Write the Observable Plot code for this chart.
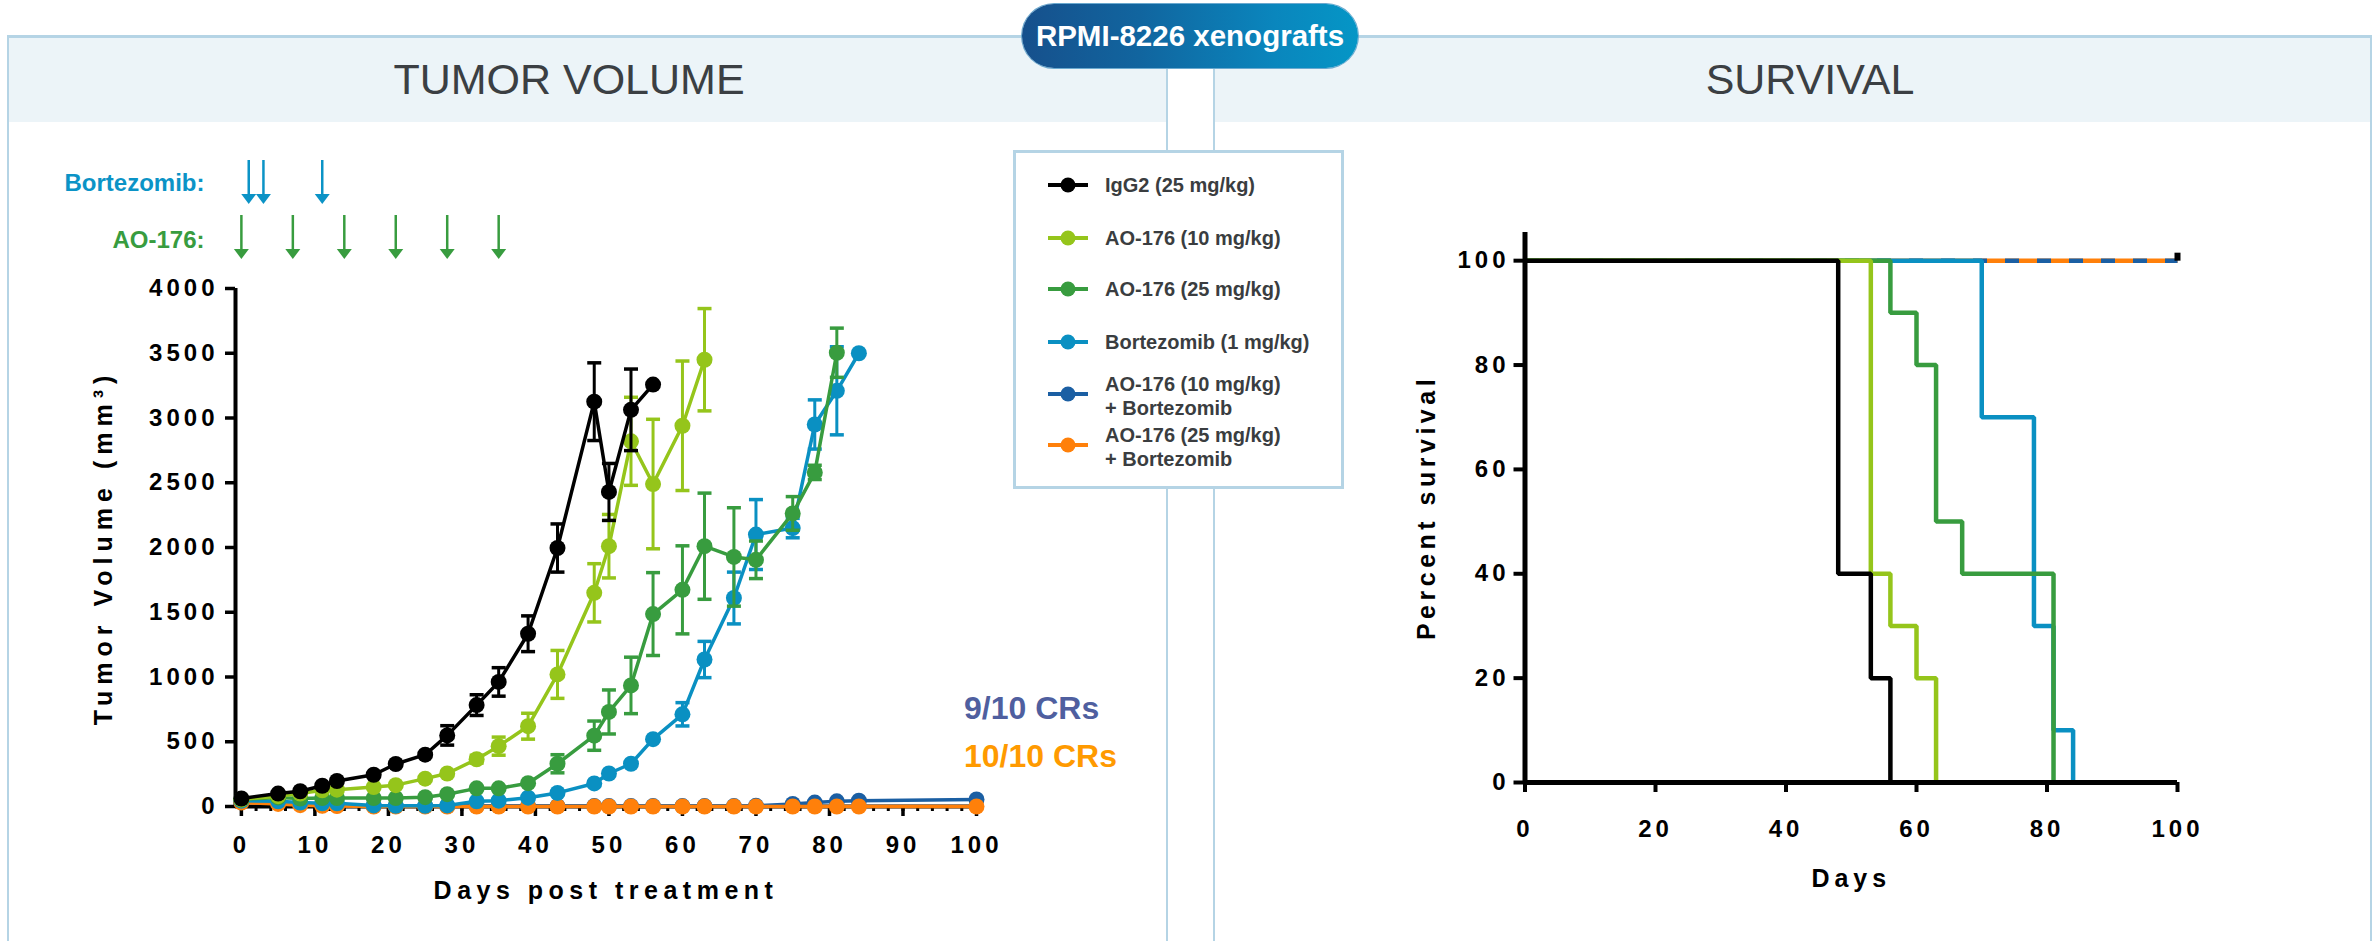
<!DOCTYPE html>
<html>
<head>
<meta charset="utf-8">
<script src="https://cdn.jsdelivr.net/npm/d3@7"></script>
<script src="https://cdn.jsdelivr.net/npm/@observablehq/plot@0.6"></script>
<style>
html, body { margin: 0; padding: 0; background: #fff; }
#page { position: relative; width: 2374px; height: 941px; overflow: hidden; font-family: "Liberation Sans", Arial, Helvetica, sans-serif; }
.panel { position: absolute; top: 35px; height: 930px; border: 2px solid #b5d4e5; border-top-width: 3px; box-sizing: border-box; background: #fff; }
.band { position: absolute; left: 0; right: 0; top: 0; height: 84px; background: #ecf4f8; }
.ptitle { position: absolute; width: 600px; text-align: center; font-size: 43px; line-height: 43px; color: #3b3f43; font-weight: normal; }
.layer { position: absolute; left: 0; top: 0; }
.layer svg { overflow: visible; background: transparent; }
#legend { position: absolute; left: 1013px; top: 150px; width: 331px; height: 339px; border: 3px solid #b5d4e5; box-sizing: border-box; background: #fff; z-index: 5; }
.litem { position: absolute; left: 0; }
.ltext { position: absolute; left: 89px; font-size: 20px; line-height: 24px; font-weight: bold; color: #3a3d40; white-space: nowrap; }
#badge { position: absolute; left: 1022px; top: 4px; width: 336px; height: 64px; border-radius: 32px; background: linear-gradient(90deg, #16508c 0%, #11659f 35%, #0a86bd 75%, #0596c6 100%); color: #fff; font-weight: bold; font-size: 29.5px; display: flex; align-items: center; justify-content: center; z-index: 10; box-shadow: 0 0 0 1px #6aa9cf; }
.cr { position: absolute; font-size: 32px; line-height: 32px; font-weight: bold; white-space: nowrap; z-index: 4; }
</style>
</head>
<body>
<div id="page">
  <div class="panel" style="left:7px; width:1161px;"><div class="band"></div></div>
  <div class="panel" style="left:1213px; width:1159px;"><div class="band"></div></div>
  <div class="ptitle" style="left:269px; top:58px;">TUMOR VOLUME</div>
  <div class="ptitle" style="left:1510px; top:58px;">SURVIVAL</div>
  <div class="layer" id="doses" style="z-index:2"></div>
  <div class="layer" id="tumor" style="z-index:3"></div>
  <div class="layer" id="survival" style="left:1213px; z-index:3"></div>
  <div id="legend"></div>
  <div class="cr" id="cr1" style="left:964px; top:692px; color:#4f5f9f;"></div>
  <div class="cr" id="cr2" style="left:964px; top:740px; color:#ff9a00;"></div>
  <div id="badge">RPMI-8226 xenografts</div>
</div>
<script>
// ---------------- DATA ----------------
const seriesNames = ["IgG2 (25 mg/kg)", "AO-176 (10 mg/kg)", "AO-176 (25 mg/kg)", "Bortezomib (1 mg/kg)", "AO-176 (10 mg/kg)\n+ Bortezomib", "AO-176 (25 mg/kg)\n+ Bortezomib"];

// measurement days (tumor volume)
const days = [0, 5, 8, 11, 13, 18, 21, 25, 28, 32, 35, 39, 43, 48, 50, 53, 56, 60, 63, 67, 70, 75, 78, 81, 84, 100];

// mean tumor volume (mm3) and error (SEM), by measurement index
const igg2    = [62, 100, 118, 160, 197, 245, 328, 400, 549, 783, 962, 1334, 1996, 3126, 2429, 3063, 3258];
const igg2Err = [0, 0, 0, 0, 0, 0, 0, 0, 75, 80, 110, 138, 186, 300, 220, 315, 0];
const ao10    = [55, 80, 100, 125, 130, 150, 165, 215, 255, 365, 466, 620, 1020, 1650, 2010, 2820, 2490, 2940, 3450];
const ao10Err = [0, 0, 0, 0, 0, 0, 0, 0, 0, 30, 70, 100, 185, 225, 245, 340, 500, 500, 395];
const ao25    = [55, 70, 62, 65, 65, 65, 65, 72, 95, 140, 140, 180, 330, 547, 730, 935, 1486, 1673, 2010, 1927, 1905, 2263, 2580, 3504];
const ao25Err = [0, 0, 0, 0, 0, 0, 0, 0, 0, 0, 0, 0, 70, 113, 170, 218, 320, 340, 410, 380, 145, 130, 55, 190];
const btz     = [45, 40, 30, 25, 25, 8, 5, 5, 8, 40, 45, 68, 105, 178, 255, 330, 520, 712, 1135, 1610, 2100, 2150, 2950, 3210, 3500];
const btzErr  = [0, 0, 0, 0, 0, 0, 0, 0, 0, 0, 0, 0, 0, 0, 0, 0, 0, 90, 140, 200, 270, 75, 190, 340, 0];
const combo10 = [40, 30, 20, 10, 8, 5, 3, 3, 3, 3, 3, 3, 3, 3, 3, 3, 3, 3, 3, 3, 5, 20, 30, 40, 45, 55];
const combo25 = [30, 20, 10, 5, 3, 0, 0, 0, 0, 0, 0, 0, 0, 0, 0, 0, 0, 0, 0, 0, 0, 0, 0, 0, 0, 0];

// dosing schedules (days)
const bortezomibDoses = [1, 3, 11];
const ao176Doses = [0, 7, 14, 21, 28, 35];

// survival (Kaplan-Meier steps): day, percent
const survIgg2Days = [0, 48, 53, 56],         survIgg2Pct = [100, 40, 20, 0];
const survAo10Days = [0, 53, 56, 60, 63],     survAo10Pct = [100, 40, 30, 20, 0];
const survAo25Days = [0, 56, 60, 63, 67, 81], survAo25Pct = [100, 90, 80, 50, 40, 0];
const survBtzDays  = [0, 70, 78, 81, 84],     survBtzPct  = [100, 70, 30, 10, 0];
const survCombo10Days = [0, 100],             survCombo10Pct = [100, 100];
const survCombo25Days = [0, 100],             survCombo25Pct = [100, 100];
const censoredDay = [100], censoredPct = [100];

// tick labels
const tumorYTicks = [0, 500, 1000, 1500, 2000, 2500, 3000, 3500, 4000];
const tumorXTicks = [0, 10, 20, 30, 40, 50, 60, 70, 80, 90, 100];
const tumorXMinor = d3.range(0, 101, 2);
const survXTicks = [0, 20, 40, 60, 80, 100];
const survYTicks = [0, 20, 40, 60, 80, 100];

const crLabels = ["9/10 CRs", "10/10 CRs"];

// ---------------- STYLE ----------------
const FONT = '"Liberation Sans", Arial, Helvetica, sans-serif';
const COL = ["#000000", "#95c51b", "#389c3f", "#0a90c2", "#1b5fa3", "#ff800a"];
const BTZ_LABEL = "#0b93c6", AO_LABEL = "#389c3f";

const hline = { draw(ctx) { ctx.moveTo(-7, 0); ctx.lineTo(7, 0); } };
const downTri = { draw(ctx) { ctx.moveTo(-7.5, -5); ctx.lineTo(7.5, -5); ctx.lineTo(0, 5); ctx.closePath(); } };
const censorMark = { draw(ctx) { ctx.rect(-3, -8, 6, 8); } };

const tumorValues = [igg2, ao10, ao25, btz, combo10, combo25];
const tumorErrors = [igg2Err, ao10Err, ao25Err, btzErr, null, null];
const series = seriesNames.map((name, i) => ({
  name, color: COL[i],
  rows: tumorValues[i].map((v, j) => ({ day: days[j], v, e: tumorErrors[i] ? tumorErrors[i][j] : 0 }))
}));
const drawOrder = [4, 5, 3, 2, 1, 0];

const xDomain = [-0.8, 100];

// ---------------- TUMOR VOLUME ----------------
const tumorMarks = [
  Plot.axisY({ ticks: tumorYTicks, tickSize: 10, tickPadding: 7, tickFormat: d => String(d), strokeWidth: 3.5, label: null }),
  Plot.axisX({ ticks: tumorXMinor, tickSize: 5, tickFormat: () => "", strokeWidth: 3, label: null }),
  Plot.axisX({ ticks: tumorXTicks, tickSize: 10, tickPadding: 19, tickFormat: d => String(d), strokeWidth: 3.5, label: null }),
  Plot.ruleX([xDomain[0]], { strokeWidth: 4 }),
  Plot.ruleY([0], { strokeWidth: 4 })
];
for (const k of drawOrder) {
  const s = series[k];
  const err = s.rows.filter(r => r.e > 0);
  tumorMarks.push(
    Plot.ruleX(err, { x: "day", y1: d => d.v - d.e, y2: d => d.v + d.e, stroke: s.color, strokeWidth: 3 }),
    Plot.dot(err, { x: "day", y: d => d.v + d.e, symbol: hline, fill: "none", stroke: s.color, strokeWidth: 3.5 }),
    Plot.dot(err, { x: "day", y: d => d.v - d.e, symbol: hline, fill: "none", stroke: s.color, strokeWidth: 3.5 }),
    Plot.line(s.rows, { x: "day", y: "v", stroke: s.color, strokeWidth: 3.5 }),
    Plot.dot(s.rows, { x: "day", y: "v", r: 8, fill: s.color, stroke: "none" })
  );
}
tumorMarks.push(
  Plot.text(["Days post treatment"], { text: d => d, frameAnchor: "bottom", textAnchor: "middle", lineAnchor: "middle", dy: 84, fontSize: 25, fontWeight: "bold" }),
  Plot.text(["Tumor Volume (mm³)"], { text: d => d, frameAnchor: "left", textAnchor: "middle", lineAnchor: "middle", dx: -132, rotate: -90, fontSize: 25, fontWeight: "bold" })
);

const tumor = Plot.plot({
  width: 1166, height: 941,
  marginLeft: 235, marginRight: 190, marginTop: 288, marginBottom: 135,
  x: { domain: xDomain },
  y: { domain: [0, 4000] },
  style: `font-family: ${FONT}; font-size: 24px; font-weight: bold; color: #000; background: transparent; overflow: visible; letter-spacing: 4px;`,
  marks: tumorMarks
});
document.getElementById("tumor").append(tumor);

// ---------------- DOSING ARROWS ----------------
const doseRows = [
  { drug: "Bortezomib:", days: bortezomibDoses, color: BTZ_LABEL, dy: 1 },
  { drug: "AO-176:", days: ao176Doses, color: AO_LABEL, dy: 3 }
];
const dosePlot = Plot.plot({
  width: 1166, height: 300,
  marginLeft: 235, marginRight: 190, marginTop: 150, marginBottom: 30,
  x: { domain: xDomain, axis: null },
  y: { type: "band", domain: doseRows.map(r => r.drug), range: [159, 259], paddingInner: 0.214, paddingOuter: 0, axis: null },
  style: `font-family: ${FONT}; font-size: 24px; font-weight: bold; background: transparent; overflow: visible;`,
  marks: doseRows.flatMap(r => [
    Plot.tickX(r.days, { x: d => d, y: () => r.drug, stroke: r.color, strokeWidth: 2.5, insetBottom: 7 }),
    Plot.dot(r.days, { x: d => d, y: () => r.drug, symbol: downTri, fill: r.color, stroke: "none", dy: 17 }),
    Plot.text([r.drug], { y: d => d, text: d => d, frameAnchor: "left", textAnchor: "end", dx: -31, dy: r.dy, fill: r.color, fontSize: 24, fontWeight: "bold" })
  ])
});
document.getElementById("doses").append(dosePlot);

// ---------------- SURVIVAL ----------------
const survDaysAll = [survIgg2Days, survAo10Days, survAo25Days, survBtzDays, survCombo10Days, survCombo25Days];
const survPctAll = [survIgg2Pct, survAo10Pct, survAo25Pct, survBtzPct, survCombo10Pct, survCombo25Pct];
const surv = seriesNames.map((name, i) => ({ name, color: COL[i], rows: survDaysAll[i].map((d, j) => ({ day: d, pct: survPctAll[i][j] })) }));
const survOrder = [5, 4, 3, 2, 1, 0];
const survMarks = [
  Plot.axisY({ ticks: survYTicks, tickSize: 11, tickPadding: 4.5, tickFormat: d => String(d), strokeWidth: 4, label: null }),
  Plot.axisX({ ticks: survXTicks, tickSize: 10, tickPadding: 27, tickFormat: d => String(d), strokeWidth: 4, label: null })
];
for (const k of survOrder) {
  const s = surv[k];
  survMarks.push(Plot.line(s.rows, {
    x: "day", y: "pct", curve: "step-after", stroke: s.color, strokeWidth: 4.5,
    strokeLinejoin: "miter", strokeLinecap: "butt",
    strokeDasharray: k === 4 ? "14,18" : null
  }));
}
survMarks.push(
  Plot.dot(censoredDay.map((d, i) => ({ day: d, pct: censoredPct[i] })), { x: "day", y: "pct", symbol: censorMark, fill: "#000", stroke: "none" }),
  Plot.ruleX([0], { strokeWidth: 5 }),
  Plot.ruleY([0], { strokeWidth: 5 }),
  Plot.text(["Days"], { text: d => d, frameAnchor: "bottom", textAnchor: "middle", lineAnchor: "middle", dy: 96, fontSize: 25, fontWeight: "bold" }),
  Plot.text(["Percent survival"], { text: d => d, frameAnchor: "left", textAnchor: "middle", lineAnchor: "middle", dx: -98.5, rotate: -90, fontSize: 25, fontWeight: "bold" })
);
const survival = Plot.plot({
  width: 1159, height: 941,
  marginLeft: 311.5, marginRight: 195, marginTop: 232, marginBottom: 159,
  x: { domain: [0, 100] },
  y: { domain: [0, 105.4] },
  style: `font-family: ${FONT}; font-size: 24px; font-weight: bold; color: #000; background: transparent; overflow: visible; letter-spacing: 4px;`,
  marks: survMarks
});
document.getElementById("survival").append(survival);

// letter spacing for axis titles
const titleSpacing = { "Days post treatment": "5.5px", "Tumor Volume (mm³)": "6px", "Days": "5px", "Percent survival": "4.5px" };
document.querySelectorAll("#tumor text, #survival text").forEach(t => {
  const s = titleSpacing[t.textContent];
  if (s) t.style.letterSpacing = s;
});

// ---------------- LEGEND ----------------
const legend = document.getElementById("legend");
const legendRowCenters = [32, 85, 136, 189, 241, 292]; // px from legend top (inner)
seriesNames.forEach((name, i) => {
  const cy = legendRowCenters[i];
  const lines = name.split("\n");
  const item = document.createElement("div");
  item.className = "litem";
  item.style.top = (cy - 12) + "px";
  item.innerHTML = `<svg width="80" height="24" style="position:absolute;left:32px;top:0"><line x1="0" x2="40" y1="12" y2="12" stroke="${COL[i]}" stroke-width="4"/><circle cx="20" cy="12" r="7.5" fill="${COL[i]}"/></svg>`;
  const txt = document.createElement("div");
  txt.className = "ltext";
  txt.style.top = (lines.length > 1 ? -12 + 2 : 0) + "px";
  txt.innerHTML = lines.join("<br>");
  item.append(txt);
  legend.append(item);
});

document.getElementById("cr1").textContent = crLabels[0];
document.getElementById("cr2").textContent = crLabels[1];
</script>
</body>
</html>
